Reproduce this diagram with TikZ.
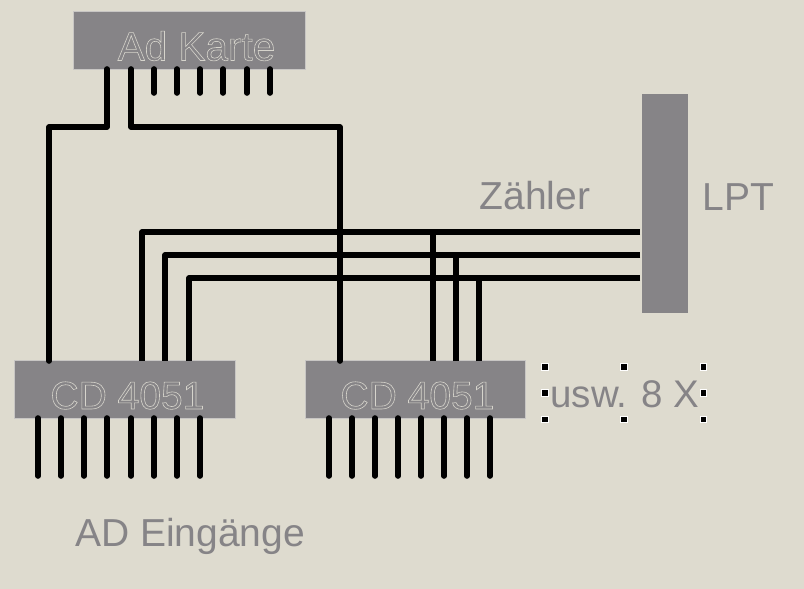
\documentclass[tikz,border=0pt]{standalone}
\usepackage{fontspec}
\setmainfont{Liberation Sans}
\usepackage{xcolor}
\usetikzlibrary{positioning}
\definecolor{pagebg}{HTML}{DEDBCF}
\definecolor{chipgray}{HTML}{868487}
\definecolor{chipedge}{HTML}{C8C6C4}
\definecolor{chiptext}{HTML}{D6D4CC}
\newcommand{\hollowtext}[1]{\special{pdf:code 1 Tr 0.6 w}#1\special{pdf:code 0 Tr}}

\begin{document}
\begin{tikzpicture}[
    x=1pt, y=-1pt,
    chipnode/.style={rectangle, draw=chipedge, fill=chipgray, line width=0.8pt, inner sep=0pt, text=chiptext, font=\fontsize{39}{39}\selectfont},
    labelnode/.style={inner sep=0pt, text=chipgray, font=\fontsize{39}{39}\selectfont},
    wire/.style={line width=5.6pt, line cap=round, line join=round},
    handle/.style={rectangle, draw=white, fill=black, line width=0.8pt, minimum size=6.5pt, inner sep=0pt}
]
\fill[pagebg] (0,0) rectangle (804,589);
\useasboundingbox (0,0) rectangle (804,589);

% Chips
\node[chipnode, minimum width=232pt, minimum height=58pt] (card) at (189.5,40.5) {};
\node[chipnode, minimum width=221pt, minimum height=58pt] (mux1) at (125,389.5) {};
\node[chipnode, minimum width=220pt, minimum height=58pt] (mux2) at (415.5,389.5) {};
\node[rectangle, fill=chipgray, minimum width=46pt, minimum height=219pt, inner sep=0pt] (lpt) at (665,203.5) {};

% Chip titles
\node[chipnode, draw=none, fill=none, anchor=base, font=\fontsize{40.5}{40}\selectfont] (cardtext) at (196.5,60.5) {\hollowtext{Ad Karte}};
\node[chipnode, draw=none, fill=none, anchor=base] (mux1text) at (127.5,409) {\hollowtext{CD 4051}};
\node[chipnode, draw=none, fill=none, anchor=base] (mux2text) at (417.5,409) {\hollowtext{CD 4051}};

% Labels
\node[labelnode, anchor=base] (count) at (535,209.5) {Zähler};
\node[labelnode, anchor=base] (port) at (738.5,210.5) {LPT};
\node[labelnode, anchor=base] (inputs) at (190,546) {AD Eingänge};
\node[labelnode, minimum width=158pt, minimum height=52pt] (more) at (624,393) {};
\node[labelnode, anchor=base, font=\fontsize{38.5}{39}\selectfont] (moretext) at (625,407) {usw. 8 X};

% Selection handles
\foreach \a in {north west,north,north east,west,east,south west,south,south east}
    \node[handle] (h-\a) at (more.\a) {};

% Card pins
\foreach \x [count=\i] in {107,131,154,177,200,223,247,270} {
    \coordinate (ka\i) at (\x,69);
    \coordinate (kb\i) at (\x,93);
}
\foreach \i in {3,...,8}
    \draw[wire] (ka\i) -- (kb\i);

% Analog inputs
\foreach \x [count=\i] in {38,61,84,107,131,154,177,200} {
    \coordinate (la\i) at (\x,418);
    \coordinate (lb\i) at (\x,476);
    \draw[wire] (la\i) -- (lb\i);
}
\foreach \x [count=\i] in {329,352,375,398,421,444,467,490} {
    \coordinate (ra\i) at (\x,418);
    \coordinate (rb\i) at (\x,476);
    \draw[wire] (ra\i) -- (rb\i);
}

% Tops of the chips
\foreach \x [count=\i] in {49,142,165,189}
    \coordinate (lt\i) at (\x,361);
\foreach \x [count=\i] in {340,433,456,479}
    \coordinate (rt\i) at (\x,361);

% Port lines
\coordinate (pa) at (640,232);
\coordinate (pb) at (640,255);
\coordinate (pc) at (640,278);

% Card to chips
\coordinate (turnl) at (107,127);
\coordinate (turnr) at (131,127);
\draw[wire] (ka1) -- (turnl) -| (lt1);
\draw[wire] (ka2) -- (turnr) -| (rt1);

% Counter lines
\draw[wire, line cap=butt] (pa) -| (lt2);
\draw[wire, line cap=butt] (pb) -| (lt3);
\draw[wire, line cap=butt] (pc) -| (lt4);
\draw[wire, line cap=butt] (rt2) -- (rt2 |- pa);
\draw[wire, line cap=butt] (rt3) -- (rt3 |- pb);
\draw[wire, line cap=butt] (rt4) -- (rt4 |- pc);
\end{tikzpicture}
\end{document}
